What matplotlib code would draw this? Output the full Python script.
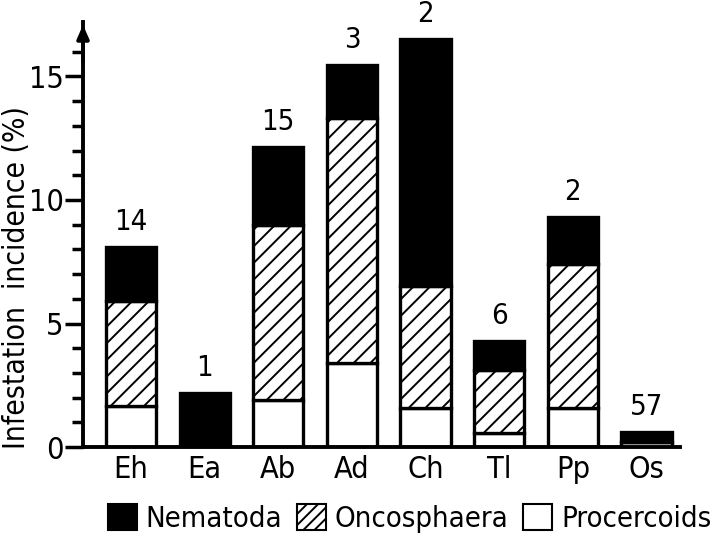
import matplotlib.pyplot as plt
from matplotlib.patches import Patch

species = ["Eh", "Ea", "Ab", "Ad", "Ch", "Tl", "Pp", "Os"]
procercoids = [1.65, 0.0, 1.9, 3.4, 1.6, 0.55, 1.6, 0.2]
oncosphaera = [4.25, 0.0, 7.1, 9.9, 4.9, 2.55, 5.8, 0.0]
nematoda = [2.2, 2.2, 3.15, 2.15, 10.0, 1.2, 1.9, 0.4]
n_hosts = ["14", "1", "15", "3", "2", "6", "2", "57"]

plt.rcParams["font.family"] = ["DejaVu Sans"]
plt.rcParams["font.stretch"] = "condensed"
plt.rcParams["hatch.linewidth"] = 1.4

fig = plt.figure(figsize=(7.25, 5.38), dpi=100)
ax = fig.add_axes([0.1145, 0.169, 0.824, 0.79])

x = list(range(len(species)))
w = 0.68
lw = 2.4
ax.bar(x, procercoids, w, color="white", edgecolor="black", linewidth=lw)
ax.bar(x, oncosphaera, w, bottom=procercoids, color="white", edgecolor="black",
       linewidth=lw, hatch="//")
bottom2 = [p + o for p, o in zip(procercoids, oncosphaera)]
ax.bar(x, nematoda, w, bottom=bottom2, color="black", edgecolor="black", linewidth=lw)

totals = [b + n for b, n in zip(bottom2, nematoda)]
for xi, t, lab in zip(x, totals, n_hosts):
    ax.text(xi, t + 0.45, lab, ha="center", va="bottom", fontsize=21)

ax.set_xlim(-0.65, 7.46)
ax.set_ylim(0, 17.2)
ax.set_xticks(x)
ax.set_xticklabels(species, fontsize=22)
ax.tick_params(axis="x", length=0, pad=6)
ax.set_yticks([0, 5, 10, 15])
ax.set_yticks(range(0, 17), minor=True)
ax.tick_params(axis="y", which="major", length=13, width=2.5, labelsize=22, pad=1)
ax.tick_params(axis="y", which="minor", length=8, width=2.5)
for s in ["top", "right"]:
    ax.spines[s].set_visible(False)
ax.spines["left"].set_linewidth(2.8)
ax.spines["bottom"].set_linewidth(2.8)
ax.annotate("", xy=(0, 1.0), xycoords="axes fraction", xytext=(0, 0.9),
            arrowprops=dict(arrowstyle="-|>,head_length=0.8,head_width=0.35",
                            color="black", lw=2.8))
ax.set_ylabel("Infestation  incidence (%)", fontsize=21.5)
ax.yaxis.set_label_coords(-0.087, 0.40)

handles = [
    Patch(facecolor="black", edgecolor="black", linewidth=1.5, label="Nematoda"),
    Patch(facecolor="white", edgecolor="black", linewidth=1.5, hatch="///", label="Oncosphaera"),
    Patch(facecolor="white", edgecolor="black", linewidth=1.5, label="Procercoids"),
]
fig.legend(handles=handles, loc="lower center", bbox_to_anchor=(0.565, -0.04), ncol=3,
           frameon=False, fontsize=21, handlelength=1.0, handleheight=1.0,
           handletextpad=0.3, columnspacing=0.5)

fig.savefig("out.png", dpi=100)
